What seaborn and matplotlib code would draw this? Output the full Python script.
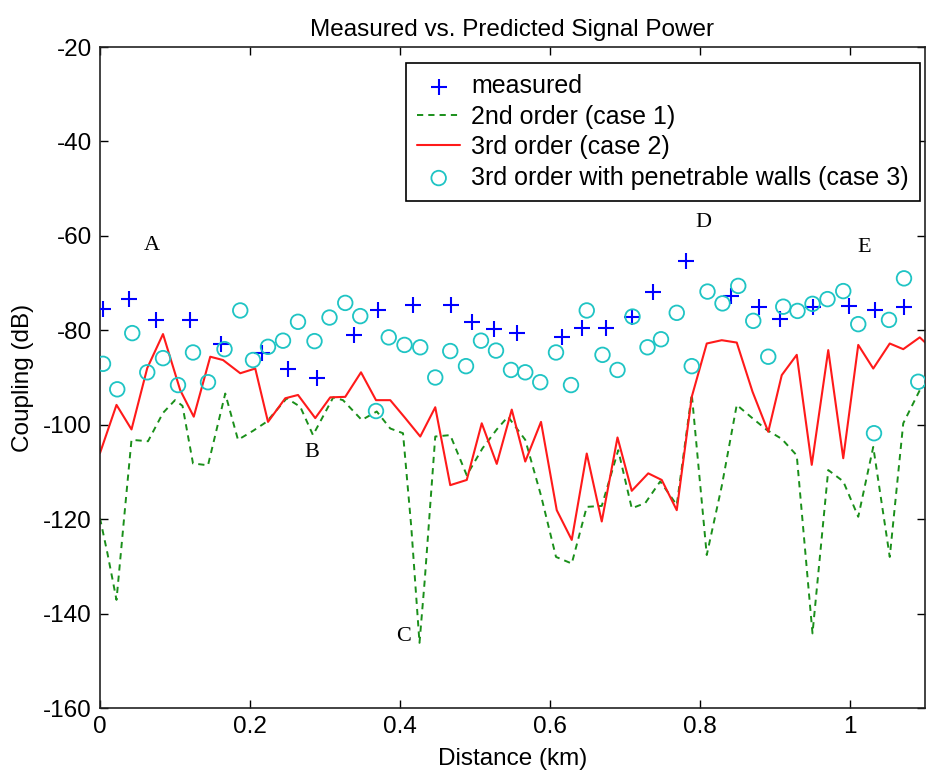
import matplotlib
matplotlib.use('Agg')
import matplotlib.pyplot as plt
import seaborn as sns

# measured points (distance in km, coupling in dB)
measured_km = [0.004, 0.038, 0.074, 0.120, 0.161, 0.216, 0.251, 0.289, 0.339, 0.371,
               0.417, 0.468, 0.496, 0.526, 0.556, 0.616, 0.643, 0.674, 0.710, 0.738,
               0.781, 0.841, 0.879, 0.907, 0.951, 0.999, 1.034, 1.072]
measured_db = [-75.4, -73.4, -77.8, -77.8, -82.8, -84.9, -88.1, -90.0, -81.1, -75.7,
               -74.6, -74.6, -78.3, -79.8, -80.6, -81.5, -79.6, -79.6, -77.1, -71.8,
               -65.3, -72.7, -75.0, -77.7, -75.0, -74.9, -75.6, -75.1]

# 2nd order (case 1)
case1_km = [0.000, 0.010, 0.022, 0.032, 0.042, 0.064, 0.084, 0.100, 0.110, 0.124,
            0.144, 0.167, 0.184, 0.204, 0.222, 0.249, 0.267, 0.284, 0.311, 0.324,
            0.349, 0.369, 0.387, 0.404, 0.415, 0.426, 0.433, 0.447, 0.467, 0.489,
            0.510, 0.529, 0.544, 0.567, 0.588, 0.608, 0.629, 0.649, 0.669, 0.691,
            0.709, 0.727, 0.747, 0.769, 0.789, 0.809, 0.829, 0.849, 0.869, 0.889,
            0.909, 0.929, 0.950, 0.971, 0.991, 1.011, 1.031, 1.053, 1.071, 1.093, 1.101]
case1_db = [-119.8, -127.3, -137.1, -120.0, -103.2, -103.5, -97.5, -94.8, -96.0, -108.2,
            -108.6, -93.4, -103.2, -101.3, -99.4, -94.4, -96.2, -102.2, -94.2, -94.8,
            -99.0, -97.2, -100.8, -101.8, -121.6, -146.2, -132.9, -102.5, -102.2, -110.7,
            -105.0, -101.0, -98.3, -103.2, -115.0, -128.0, -129.4, -117.4, -117.2, -105.4,
            -117.7, -116.6, -112.0, -117.0, -93.5, -127.6, -113.0, -95.8, -98.5, -101.1,
            -103.0, -106.5, -144.2, -109.6, -112.0, -119.5, -104.7, -128.0, -99.7, -92.7, -91.5]

# 3rd order (case 2)
case2_km = [0.000, 0.022, 0.042, 0.063, 0.084, 0.107, 0.125, 0.147, 0.164, 0.187,
            0.207, 0.224, 0.247, 0.264, 0.287, 0.307, 0.327, 0.348, 0.368, 0.387,
            0.407, 0.427, 0.447, 0.467, 0.489, 0.509, 0.529, 0.549, 0.567, 0.588,
            0.609, 0.629, 0.649, 0.669, 0.690, 0.709, 0.731, 0.749, 0.769, 0.789,
            0.809, 0.829, 0.849, 0.870, 0.891, 0.909, 0.929, 0.949, 0.971, 0.991,
            1.011, 1.031, 1.053, 1.071, 1.093, 1.101]
case2_db = [-106.0, -95.8, -101.0, -88.0, -80.8, -92.7, -98.3, -85.6, -86.3, -89.1,
            -88.1, -99.4, -94.4, -93.7, -98.6, -94.2, -94.1, -88.9, -94.8, -94.8,
            -98.6, -102.5, -96.3, -112.8, -111.7, -99.7, -108.3, -96.8, -107.8, -99.4,
            -118.1, -124.4, -106.1, -120.5, -102.7, -114.0, -110.3, -111.7, -118.1, -94.1,
            -82.8, -82.1, -82.6, -93.0, -101.5, -89.5, -85.2, -108.5, -84.2, -107.1,
            -83.1, -88.1, -82.8, -84.0, -81.5, -82.7]

# 3rd order with penetrable walls (case 3)
case3_km = [0.004, 0.023, 0.043, 0.063, 0.084, 0.104, 0.124, 0.144, 0.166, 0.187,
            0.204, 0.224, 0.244, 0.264, 0.286, 0.306, 0.327, 0.347, 0.368, 0.385,
            0.406, 0.427, 0.447, 0.467, 0.488, 0.508, 0.528, 0.548, 0.567, 0.587,
            0.608, 0.628, 0.649, 0.670, 0.690, 0.710, 0.730, 0.748, 0.769, 0.789,
            0.810, 0.830, 0.851, 0.871, 0.891, 0.911, 0.930, 0.950, 0.970, 0.991,
            1.011, 1.032, 1.052, 1.072, 1.091]
case3_db = [-87.1, -92.5, -80.6, -88.9, -85.9, -91.6, -84.7, -91.0, -84.0, -75.8,
            -86.3, -83.5, -82.2, -78.2, -82.3, -77.3, -74.2, -77.0, -97.1, -81.5,
            -83.1, -83.6, -90.0, -84.4, -87.6, -82.2, -84.3, -88.4, -88.9, -91.0,
            -84.7, -91.6, -75.8, -85.2, -88.4, -77.1, -83.6, -81.9, -76.3, -87.6,
            -71.8, -74.3, -70.6, -78.0, -85.6, -75.0, -75.9, -74.4, -73.4, -71.7,
            -78.7, -101.8, -77.8, -69.0, -90.9]

# point labels
note_text = ['A', 'B', 'C', 'D', 'E']
note_km = [0.069, 0.283, 0.405, 0.804, 1.019]
note_db = [-62.0, -105.8, -144.8, -57.1, -62.4]

sns.set_style('ticks')
plt.rcParams['font.family'] = ['Liberation Sans', 'DejaVu Sans']
plt.rcParams['font.size'] = 17
plt.rcParams['axes.unicode_minus'] = False
plt.rcParams['text.color'] = 'black'
plt.rcParams['axes.labelcolor'] = 'black'
plt.rcParams['xtick.color'] = 'black'
plt.rcParams['ytick.color'] = 'black'

fig = plt.figure(figsize=(9.26, 7.76), dpi=100)
ax = fig.add_axes([100 / 926, 68 / 776, 825 / 926, 661 / 776])

sns.scatterplot(x=measured_km, y=measured_db, ax=ax, marker='+', s=135,
                color='#0000ff', linewidth=1.5, label='measured', zorder=3)
sns.lineplot(x=case1_km, y=case1_db, ax=ax, color='#1a8f1a', linewidth=1.4,
             label='2nd order (case 1)', zorder=2)
ax.lines[-1].set_dashes((3.2, 2.6))
sns.lineplot(x=case2_km, y=case2_db, ax=ax, color='#ff1a1a', linewidth=1.5,
             label='3rd order (case 2)', zorder=2)
sns.scatterplot(x=case3_km, y=case3_db, ax=ax, marker='o', s=110,
                facecolor='none', edgecolor='#1fc4c4', linewidth=1.3,
                label='3rd order with penetrable walls (case 3)', zorder=4)

for t, xk, yd in zip(note_text, note_km, note_db):
    ax.text(xk, yd, t, family='Liberation Serif', fontsize=16,
            ha='center', va='center')

ax.set_xlim(0, 1.1)
ax.set_ylim(-160, -20)
ax.set_xticks([0, 0.2, 0.4, 0.6, 0.8, 1.0])
ax.set_xticklabels(['0', '0.2', '0.4', '0.6', '0.8', '1'])
ax.set_yticks(range(-160, 0, 20))
ax.tick_params(direction='in', top=True, right=True, length=6, width=1,
               labelsize=17.5, pad=6)
for sp in ax.spines.values():
    sp.set_visible(True)
    sp.set_linewidth(1.2)
    sp.set_color('#222222')

ax.set_title('Measured vs. Predicted Signal Power', fontsize=17.5, pad=8)
ax.set_xlabel('Distance (km)', fontsize=17.5, labelpad=7)
ax.set_ylabel('Coupling (dB)', fontsize=17.5, labelpad=6)

leg = ax.legend(loc='upper right', bbox_to_anchor=(0.994, 0.976), borderaxespad=0,
                fontsize=18, frameon=True, fancybox=False, labelspacing=0.26,
                handlelength=1.7, handletextpad=0.45, borderpad=0.45)
leg.get_frame().set_edgecolor('black')
leg.get_frame().set_linewidth(1.2)
leg.get_frame().set_alpha(1)

plt.savefig('out.png', dpi=100)
